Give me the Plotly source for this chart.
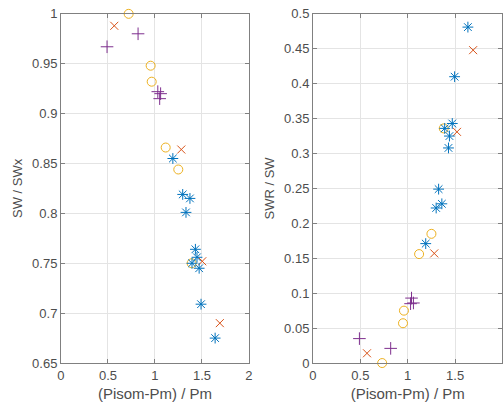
import plotly.graph_objects as go
from plotly.subplots import make_subplots

# Left panel: SW / SWx
blue_x1 = [1.19, 1.295, 1.372, 1.33, 1.43, 1.447, 1.394, 1.47, 1.49, 1.64]
blue_y1 = [0.855, 0.819, 0.815, 0.801, 0.764, 0.756, 0.750, 0.745, 0.709, 0.675]
red_x1 = [0.567, 1.28, 1.503, 1.69]
red_y1 = [0.988, 0.864, 0.752, 0.690]
yel_x1 = [0.72, 0.954, 0.965, 1.114, 1.248, 1.39]
yel_y1 = [1.0, 0.948, 0.932, 0.866, 0.844, 0.750]
pur_x1 = [0.49, 0.82, 1.03, 1.06, 1.05]
pur_y1 = [0.967, 0.980, 0.922, 0.920, 0.915]

# Right panel: SWR / SW
blue_x2 = [1.635, 1.495, 1.47, 1.39, 1.44, 1.43, 1.326, 1.36, 1.30, 1.19]
blue_y2 = [0.481, 0.410, 0.343, 0.336, 0.325, 0.308, 0.249, 0.228, 0.222, 0.171]
red_x2 = [0.57, 1.28, 1.52, 1.69]
red_y2 = [0.014, 0.157, 0.331, 0.448]
yel_x2 = [0.73, 0.95, 0.96, 1.12, 1.25, 1.38]
yel_y2 = [0.0, 0.057, 0.075, 0.156, 0.185, 0.336]
pur_x2 = [0.49, 0.82, 1.03, 1.04, 1.06]
pur_y2 = [0.035, 0.021, 0.085, 0.093, 0.086]

C_BLUE = "#0072BD"
C_RED = "#D95319"
C_YEL = "#EDB120"
C_PUR = "#7E2F8E"

fig = make_subplots(rows=1, cols=2)

def add(xs, ys, sym, color, col, size=9):
    fig.add_trace(go.Scatter(x=xs, y=ys, mode="markers", cliponaxis=False,
                             marker=dict(symbol=sym, size=size, color=color,
                                         line=dict(color=color, width=1)),
                             showlegend=False), row=1, col=col)

add(yel_x1, yel_y1, "circle-open", C_YEL, 1, 9)
add(pur_x1, pur_y1, "cross-thin-open", C_PUR, 1, 9)
add(red_x1, red_y1, "x-thin-open", C_RED, 1, 8)
add(blue_x1, blue_y1, "asterisk-open", C_BLUE, 1, 9)

add(yel_x2, yel_y2, "circle-open", C_YEL, 2, 9)
add(pur_x2, pur_y2, "cross-thin-open", C_PUR, 2, 9)
add(red_x2, red_y2, "x-thin-open", C_RED, 2, 8)
add(blue_x2, blue_y2, "asterisk-open", C_BLUE, 2, 9)

tickfont = dict(family="Liberation Sans, Arial, sans-serif", size=13, color="#4d4d4d")
ytitlefont = dict(family="Liberation Sans, Arial, sans-serif", size=13, color="#4d4d4d")
xtitlefont = dict(family="Liberation Sans, Arial, sans-serif", size=15, color="#4d4d4d")
common = dict(showgrid=True, gridcolor="#e4e4e4", gridwidth=1, zeroline=False,
              showline=True, linecolor="#808080", linewidth=1, mirror="ticks",
              ticks="inside", ticklen=4, tickcolor="#808080", automargin=False,
              tickfont=tickfont)

xticks = [0, 0.5, 1, 1.5, 2]
xlabels = ["0", "0.5", "1", "1.5", "2"]
y1ticks = [0.65, 0.7, 0.75, 0.8, 0.85, 0.9, 0.95, 1]
y1labels = ["0.65", "0.7", "0.75", "0.8", "0.85", "0.9", "0.95", "1"]
y2ticks = [0, 0.05, 0.1, 0.15, 0.2, 0.25, 0.3, 0.35, 0.4, 0.45, 0.5]
y2labels = ["0", "0.05", "0.1", "0.15", "0.2", "0.25", "0.3", "0.35", "0.4", "0.45", "0.5"]

fig.update_layout(
    width=504, height=407,
    margin=dict(l=0, r=0, t=0, b=0),
    paper_bgcolor="white", plot_bgcolor="white",
    xaxis=dict(domain=[0.121, 0.494], range=[0, 2], tickvals=xticks, ticktext=xlabels,
               title=dict(text="(Pisom-Pm) / Pm", standoff=6, font=xtitlefont), **common),
    yaxis=dict(domain=[0.108, 0.966], range=[0.65, 1], tickvals=y1ticks, ticktext=y1labels,
               title=dict(text="SW / SWx", standoff=6, font=ytitlefont), **common),
    xaxis2=dict(domain=[0.621, 0.997], range=[0, 2], tickvals=xticks, ticktext=xlabels,
                title=dict(text="(Pisom-Pm) / Pm", standoff=6, font=xtitlefont), **common),
    yaxis2=dict(domain=[0.108, 0.966], range=[0, 0.5], tickvals=y2ticks, ticktext=y2labels,
                title=dict(text="SWR / SW", standoff=6, font=ytitlefont), **common),
)

fig.write_html("out.html")
